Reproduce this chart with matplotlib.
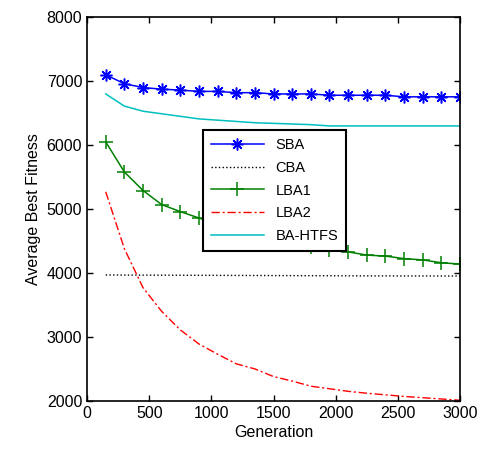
import matplotlib
matplotlib.use("Agg")
import matplotlib.pyplot as plt

plt.rcParams["font.family"] = ["Liberation Sans", "DejaVu Sans"]

gens = [150, 300, 450, 600, 750, 900, 1050, 1200, 1350, 1500,
        1650, 1800, 1950, 2100, 2250, 2400, 2550, 2700, 2850, 3000]

sba = [7100, 6960, 6900, 6875, 6860, 6840, 6840, 6820, 6820, 6800,
       6800, 6800, 6780, 6780, 6780, 6780, 6755, 6755, 6755, 6755]
cba = [3970, 3968, 3967, 3966, 3965, 3964, 3963, 3962, 3961, 3960,
       3959, 3958, 3957, 3956, 3955, 3955, 3954, 3954, 3953, 3953]
lba1 = [6050, 5580, 5290, 5070, 4960, 4860, 4760, 4680, 4600, 4530,
        4460, 4400, 4360, 4330, 4280, 4265, 4225, 4205, 4160, 4140]
lba2 = [5270, 4380, 3770, 3400, 3110, 2890, 2730, 2580, 2500, 2380,
        2310, 2230, 2190, 2150, 2120, 2095, 2070, 2050, 2030, 2010]
htfs = [6800, 6610, 6530, 6490, 6450, 6410, 6390, 6370, 6350, 6340,
        6330, 6320, 6300, 6300, 6300, 6300, 6300, 6300, 6300, 6300]

fig = plt.figure(figsize=(4.92, 4.53), dpi=100)
ax = fig.add_axes([0.177, 0.115, 0.758, 0.847])

# MATLAB-style asterisk marker (8 arms)
ax.plot(gens, sba, color="blue", lw=1.1, marker=(8, 2, 0), ms=8.5, mew=1.1, label="SBA")
ax.plot(gens, cba, color="black", lw=1.0, ls=":", label="CBA")
ax.plot(gens, lba1, color="green", lw=1.1, marker="+", ms=10.5, mew=1.1, label="LBA1")
ax.plot(gens, lba2, color="red", lw=1.0, ls=(0, (6, 2, 1.5, 2)), label="LBA2")
ax.plot(gens, htfs, color="#00BFBF", lw=1.1, label="BA-HTFS")

ax.set_xlim(0, 3000)
ax.set_ylim(2000, 8000)
ax.set_xticks(range(0, 3001, 500))
ax.set_yticks(range(2000, 8001, 1000))
ax.tick_params(direction="in", top=True, right=True, labelsize=11.5, length=4, width=1)
for s in ax.spines.values():
    s.set_linewidth(1.2)
ax.set_xlabel("Generation", fontsize=11.5, labelpad=3)
ax.set_ylabel("Average Best Fitness", fontsize=11.5)

leg = ax.legend(loc="upper left", bbox_to_anchor=(0.311, 0.706), fontsize=10.5,
                handlelength=3.6, fancybox=False, framealpha=1, borderaxespad=0,
                borderpad=0.55, labelspacing=0.6)
leg.get_frame().set_edgecolor("black")
leg.get_frame().set_linewidth(1.5)

fig.savefig("out.png", dpi=100)
